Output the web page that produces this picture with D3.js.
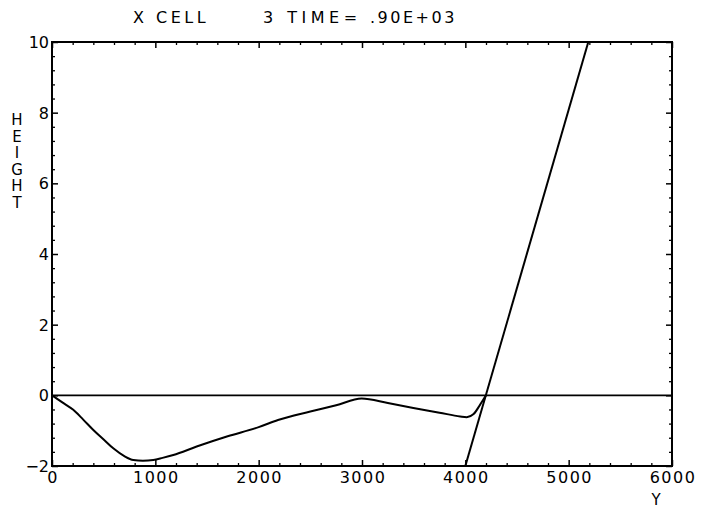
<!DOCTYPE html>
<html>
<head>
<meta charset="utf-8">
<script src="https://cdn.jsdelivr.net/npm/d3@7"></script>
<style>
  body { margin: 0; background: #fff; }
  text { font-family: "DejaVu Sans", sans-serif; fill: #000; }
</style>
</head>
<body>
<div id="chart"></div>
<script>
// Surface profile (Y distance vs height)
const profileY = [0, 100, 206, 300, 400, 500, 593, 700, 787, 880, 980, 1070, 1174, 1400, 1700, 2000, 2187, 2500, 2750, 2997, 3250, 3497, 3750, 3950, 4013, 4080, 4142, 4200];
const profileH = [0, -0.2, -0.41, -0.68, -0.98, -1.25, -1.50, -1.72, -1.83, -1.85, -1.83, -1.77, -1.69, -1.45, -1.16, -0.90, -0.70, -0.46, -0.28, -0.09, -0.22, -0.36, -0.49, -0.60, -0.62, -0.53, -0.27, 0];

// Steep straight line
const lineY = [4000, 5190];
const lineH = [-2, 10];

const xMajor = [0, 1000, 2000, 3000, 4000, 5000, 6000];
const yMajor = [-2, 0, 2, 4, 6, 8, 10];

const width = 712, height = 508;
const margin = { top: 42, right: 40, bottom: 42, left: 52 };

const svg = d3.select("#chart")
    .append("svg")
    .attr("width", width)
    .attr("height", height);

const x = d3.scaleLinear().domain([0, 6000]).range([margin.left, width - margin.right]);
const y = d3.scaleLinear().domain([-2, 10]).range([height - margin.bottom, margin.top]);

const xMinor = d3.range(0, 6001, 200).filter(v => v % 1000 !== 0);
const yMinor = d3.range(0, 31).map(i => -2 + i * 0.4).filter((v, i) => i % 5 !== 0);

const fontSize = 16;

// ticks helper: axis with no domain, inward ticks
function ticks(axis, transform, values, size) {
    svg.append("g").attr("transform", transform)
        .call(axis.tickValues(values).tickSize(-size).tickFormat(""))
        .call(g => g.select(".domain").remove())
        .selectAll("line").attr("stroke-width", size > 4 ? 1.5 : 1.3);
}

ticks(d3.axisBottom(x), `translate(0,${y(-2)})`, xMajor, 6);
ticks(d3.axisBottom(x), `translate(0,${y(-2)})`, xMinor, 3);
ticks(d3.axisTop(x), `translate(0,${y(10)})`, xMajor, 6);
ticks(d3.axisTop(x), `translate(0,${y(10)})`, xMinor, 3);
ticks(d3.axisLeft(y), `translate(${x(0)},0)`, yMajor, 6);
ticks(d3.axisLeft(y), `translate(${x(0)},0)`, yMinor, 3);
ticks(d3.axisRight(y), `translate(${x(6000)},0)`, yMajor, 6);
ticks(d3.axisRight(y), `translate(${x(6000)},0)`, yMinor, 3);

// tick labels
svg.append("g").selectAll("text")
    .data(xMajor)
    .enter()
    .append("text")
    .attr("x", d => x(d) + 1)
    .attr("y", y(-2) + 17)
    .attr("text-anchor", "middle")
    .attr("font-size", fontSize)
    .attr("letter-spacing", 1.5)
    .text(d => d3.format("d")(d));

svg.append("g").selectAll("text")
    .data(yMajor)
    .enter()
    .append("text")
    .attr("x", x(0) - 3)
    .attr("y", d => y(d) + 6)
    .attr("text-anchor", "end")
    .attr("font-size", fontSize)
    .text(d => d3.format("d")(d));

// frame
svg.append("rect")
    .attr("x", x(0)).attr("y", y(10))
    .attr("width", x(6000) - x(0)).attr("height", y(-2) - y(10))
    .attr("fill", "none").attr("stroke", "#000").attr("stroke-width", 2);

// zero line
svg.append("line")
    .attr("x1", x(0)).attr("x2", x(6000))
    .attr("y1", y(0)).attr("y2", y(0))
    .attr("stroke", "#000").attr("stroke-width", 1.8);

svg.append("clipPath").attr("id", "clip")
    .append("rect")
    .attr("x", x(0)).attr("y", y(10))
    .attr("width", x(6000) - x(0)).attr("height", y(-2) - y(10));

const plot = svg.append("g").attr("clip-path", "url(#clip)");

const profile = profileY.map((v, i) => [v, profileH[i]]);
plot.append("path")
    .datum(profile)
    .attr("fill", "none")
    .attr("stroke", "#000")
    .attr("stroke-width", 2)
    .attr("d", d3.line().x(d => x(d[0])).y(d => y(d[1])).curve(d3.curveMonotoneX));

plot.append("path")
    .datum(lineY.map((v, i) => [v, lineH[i]]))
    .attr("fill", "none")
    .attr("stroke", "#000")
    .attr("stroke-width", 2)
    .attr("d", d3.line().x(d => x(d[0])).y(d => y(d[1])));

// title
const title = svg.append("g").attr("font-size", 16);
title.append("text").attr("x", 133).attr("y", 23).attr("letter-spacing", 3.5).text("X CELL");
title.append("text").attr("x", 263).attr("y", 23).attr("letter-spacing", 4.5).text("3 TIME=");
title.append("text").attr("x", 370).attr("y", 23).attr("letter-spacing", 2.5).text(".90E+03");

// x axis label
svg.append("text")
    .attr("x", x(6000) - 16).attr("y", 505)
    .attr("text-anchor", "middle")
    .attr("font-size", 15)
    .text("Y");

// y axis label: stacked letters
svg.append("g").selectAll("text")
    .data("HEIGHT".split(""))
    .enter()
    .append("text")
    .attr("x", 17)
    .attr("y", (d, i) => 125 + i * 16.5)
    .attr("text-anchor", "middle")
    .attr("font-size", 15)
    .text(d => d);
</script>
</body>
</html>
